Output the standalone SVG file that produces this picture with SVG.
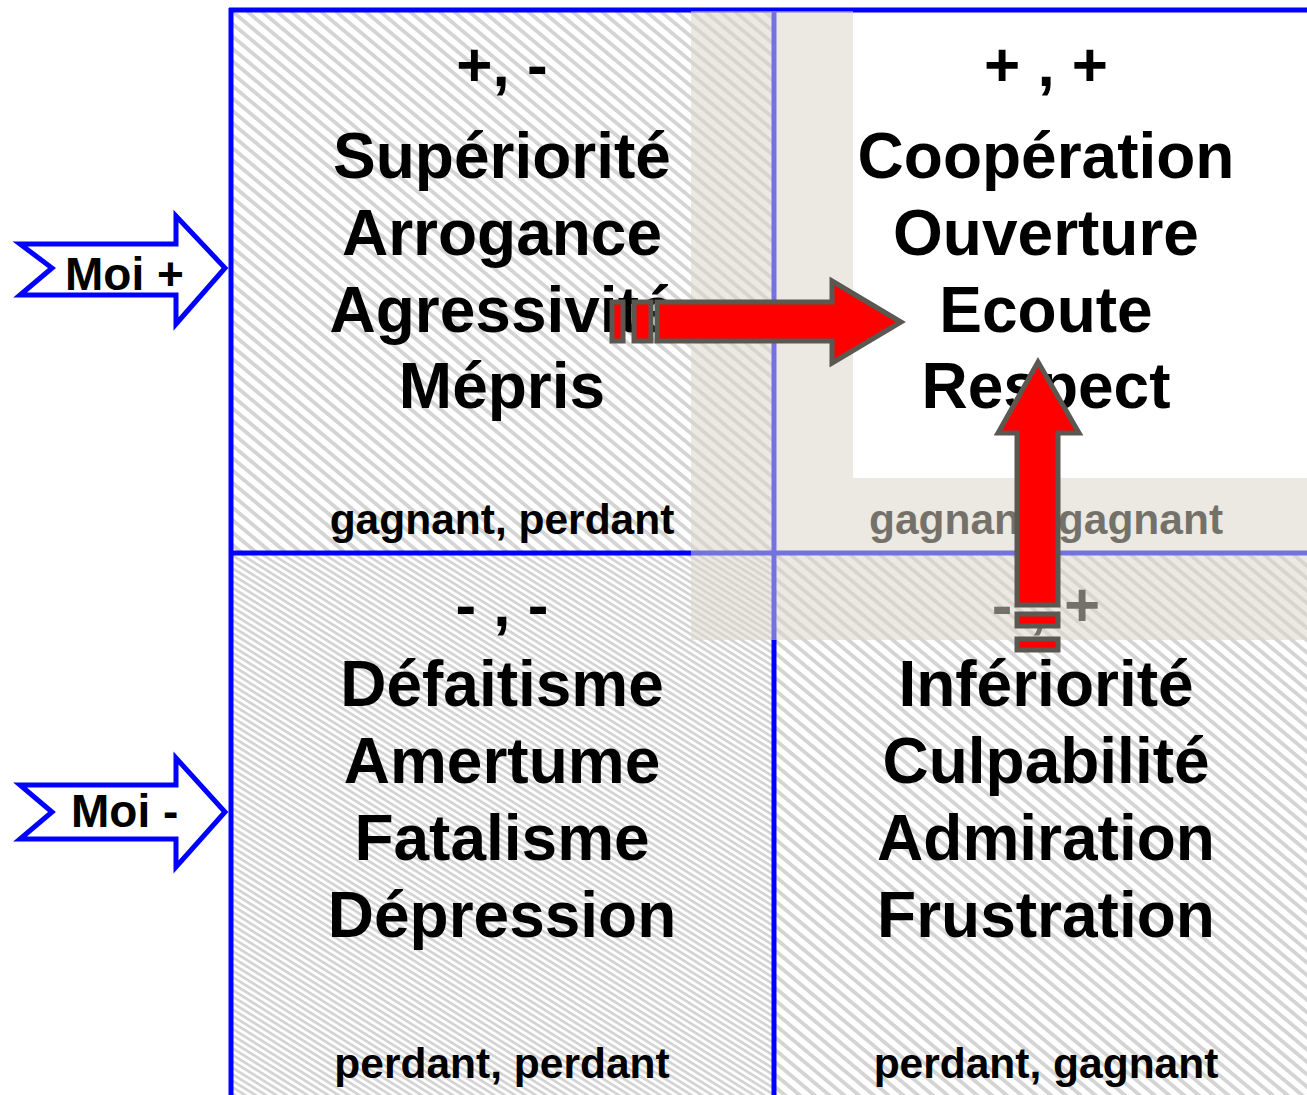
<svg xmlns="http://www.w3.org/2000/svg" width="1307" height="1095" viewBox="0 0 1307 1095">
<defs>
<pattern id="hatchWide" patternUnits="userSpaceOnUse" width="10" height="9.5" patternTransform="rotate(40)">
<rect width="10" height="9.5" fill="#ffffff"/>
<rect width="10" height="3.8" fill="#d4d4d4"/>
</pattern>
<pattern id="hatchDense" patternUnits="userSpaceOnUse" width="10" height="5.5" patternTransform="rotate(32)">
<rect width="10" height="5.5" fill="#ffffff"/>
<rect width="10" height="2.6" fill="#d2d2d2"/>
</pattern>
</defs>
<style>
.grid{stroke:#0000ff;stroke-width:5;fill:none}
.sign{font-family:"Liberation Sans",Arial,sans-serif;font-weight:bold;font-size:62px;text-anchor:middle;fill:#000}
.word{font-family:"Liberation Sans",Arial,sans-serif;font-weight:bold;font-size:64px;text-anchor:middle;fill:#000}
.lbl{font-family:"Liberation Sans",Arial,sans-serif;font-weight:bold;font-size:42.5px;text-anchor:middle;fill:#000}
.moi{font-family:"Liberation Sans",Arial,sans-serif;font-weight:bold;font-size:46px;fill:#000}
.moiarrow{fill:#ffffff;stroke:#0000ff;stroke-width:5;stroke-linejoin:miter}
.red{fill:#ff0000;stroke:#5a5850;stroke-width:5;stroke-linejoin:miter}
</style>
<rect width="1307" height="1095" fill="#ffffff"/>

<g id="quadrant-top-left">
<rect x="231" y="10" width="543" height="543" fill="url(#hatchWide)"/>
<text class="sign" x="502" y="86">+, -</text>
<text class="word" x="502" y="178">Supériorité</text>
<text class="word" x="502" y="255">Arrogance</text>
<text class="word" x="502" y="332">Agressivité</text>
<text class="word" x="502" y="408">Mépris</text>
<text class="lbl" x="502" y="534">gagnant, perdant</text>
</g>

<g id="quadrant-top-right">
<rect x="774" y="10" width="533" height="543" fill="#ffffff"/>
<text class="sign" x="1046" y="86">+ , +</text>
<text class="word" x="1046" y="178">Coopération</text>
<text class="word" x="1046" y="255">Ouverture</text>
<text class="word" x="1046" y="332">Ecoute</text>
<text class="word" x="1046" y="408">Respect</text>
<text class="lbl" x="1046" y="534">gagnant, gagnant</text>
</g>

<g id="quadrant-bottom-left">
<rect x="231" y="553" width="543" height="542" fill="url(#hatchDense)"/>
<text class="sign" x="502" y="626">- , -</text>
<text class="word" x="502" y="706">Défaitisme</text>
<text class="word" x="502" y="783">Amertume</text>
<text class="word" x="502" y="860">Fatalisme</text>
<text class="word" x="502" y="937">Dépression</text>
<text class="lbl" x="502" y="1078">perdant, perdant</text>
</g>

<g id="quadrant-bottom-right">
<rect x="774" y="553" width="533" height="542" fill="url(#hatchWide)"/>
<text class="sign" x="1046" y="626">- , +</text>
<text class="word" x="1046" y="706">Infériorité</text>
<text class="word" x="1046" y="783">Culpabilité</text>
<text class="word" x="1046" y="860">Admiration</text>
<text class="word" x="1046" y="937">Frustration</text>
<text class="lbl" x="1046" y="1078">perdant, gagnant</text>
</g>

<g id="grid-lines">
<line class="grid" x1="231" y1="8" x2="231" y2="1095"/>
<line class="grid" x1="229" y1="10" x2="1307" y2="10"/>
<line class="grid" x1="774" y1="10" x2="774" y2="1095"/>
<line class="grid" x1="229" y1="553" x2="1307" y2="553"/>
</g>

<g id="overlay">
<path d="M691,11 H853 V478 H1307 V640 H691 Z" fill="rgb(219,214,200)" fill-opacity="0.53"/>
</g>

<g id="connectors">
<path id="arrow-right" class="red" d="M657,302 H832 V281 L901,322 L832,363 V341 H657 Z"/>
<rect class="red" x="612" y="302" width="11" height="39"/>
<rect class="red" x="634" y="302" width="17" height="39"/>
<path id="arrow-up" class="red" d="M1038,362 L1079,433 H1058 V605 H1017 V433 H998 Z"/>
<rect class="red" x="1017" y="614" width="41" height="12"/>
<rect class="red" x="1017" y="639" width="41" height="11"/>
</g>

<g id="moi-plus">
<path class="moiarrow" d="M20,244 H176 V216 L225,268 L176,324 V295 H20 L52,268 Z"/>
<text class="moi" x="65" y="290">Moi +</text>
</g>

<g id="moi-minus">
<path class="moiarrow" d="M20,785 H176 V758 L225,812 L176,867 V839 H20 L52,812 Z"/>
<text class="moi" x="71" y="827">Moi -</text>
</g>
</svg>
